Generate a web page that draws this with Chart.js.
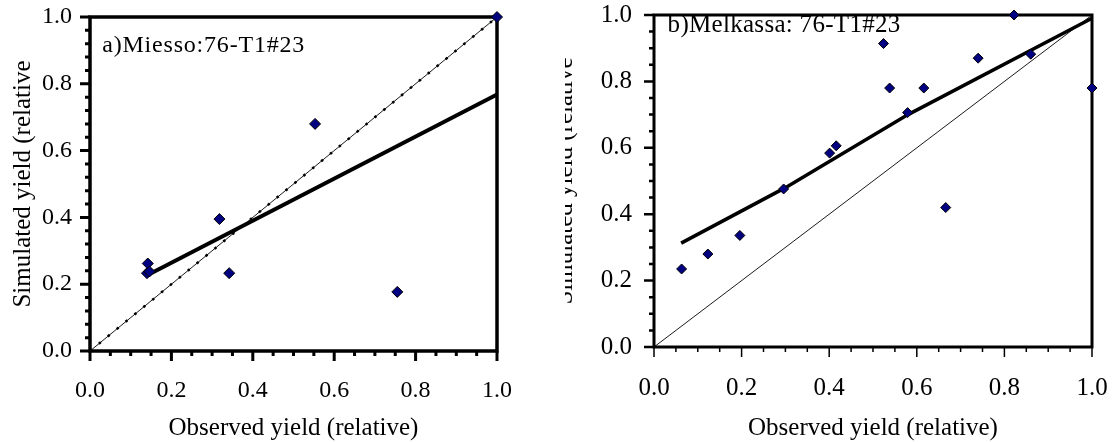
<!DOCTYPE html>
<html>
<head>
<meta charset="utf-8">
<script src="https://cdn.jsdelivr.net/npm/chart.js@4"></script>
<style>
  html, body { margin: 0; padding: 0; background: #fff; }
  body { width: 1112px; height: 442px; position: relative; overflow: hidden; }
  #boxA { position: absolute; left: 0; top: 0; width: 520px; height: 442px; }
  #boxB { position: absolute; left: 565px; top: 0; width: 547px; height: 442px; overflow: hidden; }
  #boxB canvas { position: absolute; left: -10px; top: 0; }
</style>
</head>
<body>
<div id="boxA"><canvas id="miesso" width="520" height="442"></canvas></div>
<div id="boxB"><canvas id="melkassa" width="557" height="442"></canvas></div>
<script>
// a) Miesso: observed vs simulated (relative)
const obsA = [0.140, 0.142, 0.146, 0.318, 0.342, 0.553, 0.755, 1.000];
const simA = [0.233, 0.262, 0.238, 0.395, 0.233, 0.680, 0.177, 1.000];
const fitAx = [0.143, 1.000];
const fitAy = [0.228, 0.768];

// b) Melkassa
const obsB = [0.063, 0.123, 0.196, 0.296, 0.401, 0.416, 0.524, 0.538, 0.579, 0.616, 0.666, 0.740, 0.822, 0.860, 1.000];
const simB = [0.235, 0.280, 0.336, 0.476, 0.584, 0.606, 0.914, 0.780, 0.706, 0.780, 0.420, 0.870, 1.000, 0.882, 0.780];
const fitBx = [0.062, 0.300, 0.580, 1.000];
const fitBy = [0.313, 0.480, 0.700, 0.990];

// 1:1 line
const oneToOne = [0, 1];

const majorTicks = [0, 0.2, 0.4, 0.6, 0.8, 1.0];
const majorLabels = ['0.0', '0.2', '0.4', '0.6', '0.8', '1.0'];

const SERIF = '"Liberation Serif", "Times New Roman", serif';

function pts(xs, ys) {
    return xs.map((v, i) => ({ x: v, y: ys[i] }));
}
function majorIndex(v) {
    return majorTicks.findIndex(m => Math.abs(m - v) < 1e-6);
}
function majorLabel(v) {
    const i = majorIndex(v);
    return i >= 0 ? majorLabels[i] : '';
}

// frame, excel style tick marks and the panel label
const frameTicks = {
    id: 'frameTicks',
    beforeDatasetsDraw(chart, args, o) {
        const { ctx, chartArea: a, scales: { x, y } } = chart;
        ctx.save();
        ctx.strokeStyle = '#000';
        ctx.lineCap = 'butt';
        ctx.lineWidth = o.yTickWidth;
        ctx.beginPath();
        y.ticks.forEach(t => {
            const py = y.getPixelForValue(t.value);
            const len = majorIndex(t.value) >= 0 ? o.major : o.minor;
            ctx.moveTo(a.left, py);
            ctx.lineTo(a.left - len, py);
        });
        ctx.stroke();
        ctx.lineWidth = o.xTickWidth;
        ctx.beginPath();
        x.ticks.forEach(t => {
            const px = x.getPixelForValue(t.value);
            const len = majorIndex(t.value) >= 0 ? o.major : o.minor;
            ctx.moveTo(px, a.bottom);
            ctx.lineTo(px, a.bottom + len);
        });
        ctx.stroke();
        ctx.lineWidth = o.frame;
        ctx.strokeRect(a.left, a.top, a.right - a.left, a.bottom - a.top);

        ctx.fillStyle = '#000';
        ctx.font = o.labelSize + 'px ' + SERIF;
        ctx.textBaseline = 'alphabetic';
        ctx.textAlign = 'left';
        if (o.spacing) ctx.letterSpacing = o.spacing + 'px';
        ctx.fillText(o.label, x.getPixelForValue(o.labelAt[0]), y.getPixelForValue(o.labelAt[1]));
        ctx.restore();
    }
};

function makeChart(id, cfg) {
    const tickFont = { family: SERIF, size: cfg.tickSize };
    const titleFont = { family: SERIF, size: cfg.titleSize };
    const datasets = [
        {
            label: '1:1',
            data: pts(oneToOne, oneToOne),
            showLine: true,
            borderColor: '#000',
            borderWidth: 0.9,
            pointRadius: 0,
            order: 3
        },
        {
            label: 'fit',
            data: pts(cfg.fitX, cfg.fitY),
            showLine: true,
            borderColor: '#000',
            borderWidth: cfg.fitWidth,
            pointRadius: 0,
            tension: 0,
            order: 2
        },
        {
            label: 'data',
            data: pts(cfg.obs, cfg.sim),
            showLine: false,
            pointStyle: 'rectRot',
            pointRadius: cfg.pointRadius,
            backgroundColor: '#000080',
            borderColor: '#000',
            borderWidth: 1,
            order: 1
        }
    ];
    if (cfg.dotted) {
        // marker dashes sitting on the 1:1 line
        datasets.push({
            label: '1:1 marks',
            data: pts(oneToOne, oneToOne),
            showLine: true,
            borderColor: '#000',
            borderWidth: 2.5,
            borderDash: [2.5, 9],
            pointRadius: 0,
            order: 4
        });
    }
    return new Chart(document.getElementById(id), {
        type: 'scatter',
        data: { datasets: datasets },
        options: {
            responsive: false,
            animation: false,
            clip: false,
            layout: { padding: cfg.pad },
            plugins: {
                legend: { display: false },
                tooltip: { enabled: false },
                frameTicks: cfg.frame
            },
            scales: {
                x: {
                    type: 'linear',
                    min: 0,
                    max: 1,
                    afterFit(s) {
                        s.height = cfg.xHeight;
                        s.paddingLeft = 0;
                        s.paddingRight = 0;
                    },
                    grid: { display: true, drawOnChartArea: false, drawTicks: true, tickLength: 10, color: 'rgba(0,0,0,0)' },
                    border: { display: false },
                    ticks: {
                        stepSize: cfg.xStep,
                        autoSkip: false,
                        maxRotation: 0,
                        padding: cfg.xPad,
                        color: '#000',
                        font: tickFont,
                        callback: majorLabel
                    },
                    title: {
                        display: true,
                        text: 'Observed yield (relative)',
                        color: '#000',
                        font: titleFont,
                        padding: { top: 0, bottom: cfg.xTitlePad }
                    }
                },
                y: {
                    type: 'linear',
                    min: 0,
                    max: 1,
                    afterFit(s) {
                        s.width = cfg.yWidth;
                        s.paddingTop = 0;
                        s.paddingBottom = 0;
                    },
                    grid: { display: true, drawOnChartArea: false, drawTicks: true, tickLength: 10, color: 'rgba(0,0,0,0)' },
                    border: { display: false },
                    ticks: {
                        stepSize: cfg.yStep,
                        autoSkip: false,
                        padding: cfg.yPad,
                        color: '#000',
                        font: tickFont,
                        callback: majorLabel
                    },
                    title: {
                        display: true,
                        text: 'Simulated yield (relative',
                        color: '#000',
                        font: titleFont,
                        padding: { top: cfg.yTitlePad, bottom: 0 }
                    }
                }
            }
        },
        plugins: [frameTicks]
    });
}

makeChart('miesso', {
    obs: obsA, sim: simA, fitX: fitAx, fitY: fitAy,
    dotted: true,
    fitWidth: 4,
    pointRadius: 5.5,
    tickSize: 24,
    titleSize: 25,
    pad: { left: 0, right: 23, top: 17, bottom: 0 },
    xHeight: 91,
    yWidth: 90,
    xStep: 0.05,
    yStep: 0.04,
    xPad: 15,
    yPad: 8,
    xTitlePad: -1,
    yTitlePad: 8,
    frame: {
        frame: 3.5, major: 10, minor: 5, yTickWidth: 3, xTickWidth: 3,
        label: 'a)Miesso:76-T1#23', labelAt: [0.03, 0.896], labelSize: 24, spacing: 0.8
    }
});

makeChart('melkassa', {
    obs: obsB, sim: simB, fitX: fitBx, fitY: fitBy,
    dotted: false,
    fitWidth: 3.5,
    pointRadius: 5,
    tickSize: 25,
    titleSize: 25,
    pad: { left: 0, right: 20, top: 15, bottom: 0 },
    xHeight: 95,
    yWidth: 99,
    xStep: 0.05,
    yStep: 0.05,
    xPad: 16,
    yPad: 12,
    xTitlePad: -1,
    yTitlePad: -5,
    frame: {
        frame: 3, major: 10, minor: 5, yTickWidth: 2.5, xTickWidth: 1.5,
        label: 'b)Melkassa: 76-T1#23', labelAt: [0.031, 0.95], labelSize: 25, spacing: 0.3
    }
});
</script>
</body>
</html>
